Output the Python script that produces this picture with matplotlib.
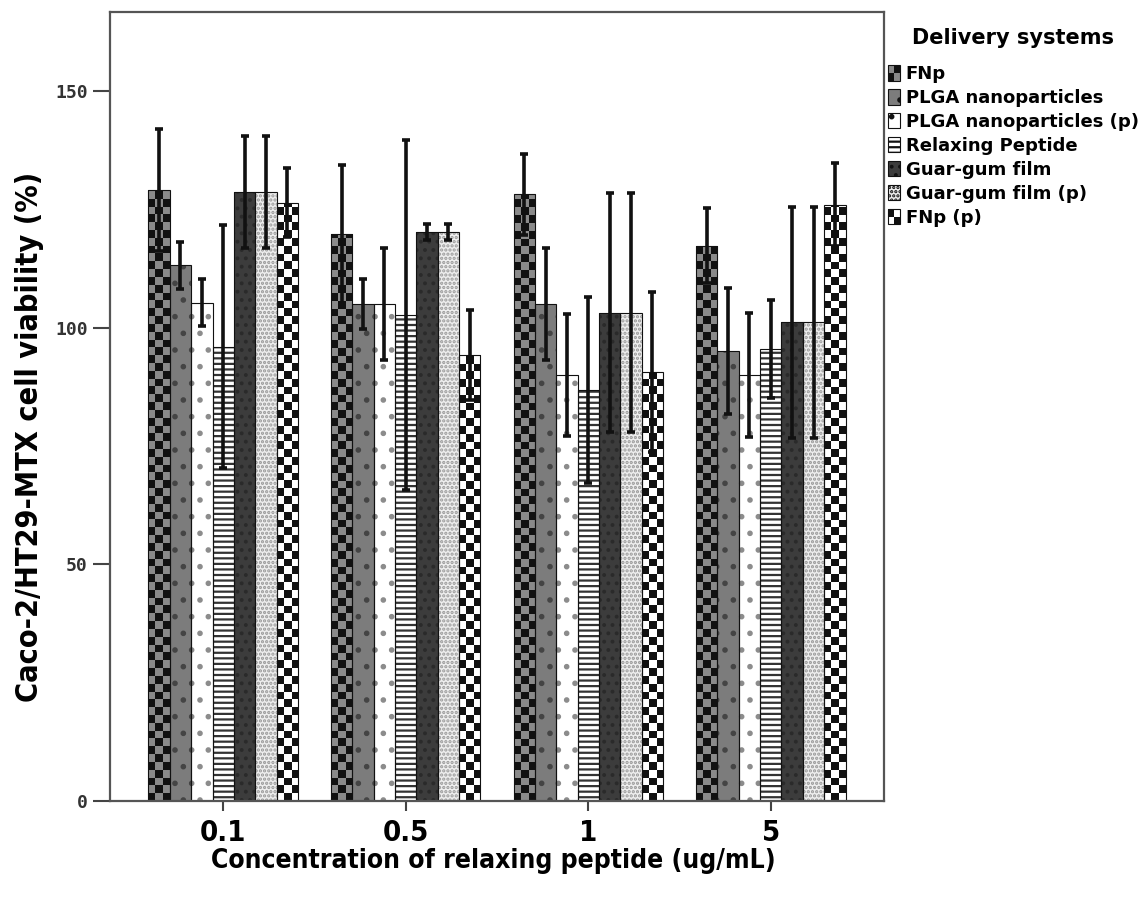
import os
import numpy as np
import matplotlib
matplotlib.use("Agg")
import matplotlib.pyplot as plt
from matplotlib import font_manager as fm
from matplotlib.patches import Rectangle, Patch
from matplotlib.legend_handler import HandlerBase
from matplotlib.colors import ListedColormap

# --- data ---
concentrations = ["0.1", "0.5", "1", "5"]
series = ["FNp", "PLGA nanoparticles", "PLGA nanoparticles (p)",
          "Relaxing Peptide", "Guar-gum film", "Guar-gum film (p)", "FNp (p)"]

fnp_mean = [129.1, 119.7, 128.2, 117.3]
plga_mean = [113.2, 105.0, 105.0, 95.0]
plga_p_mean = [105.3, 105.0, 90.0, 90.0]
relax_mean = [96.0, 102.7, 86.8, 95.5]
guar_mean = [128.7, 120.2, 103.2, 101.2]
guar_p_mean = [128.7, 120.2, 103.2, 101.2]
fnp_p_mean = [126.4, 94.2, 90.7, 126.0]

fnp_err = [12.8, 14.6, 8.6, 7.9]
plga_err = [5.0, 5.3, 11.8, 13.3]
plga_p_err = [5.0, 11.8, 12.9, 13.0]
relax_err = [25.6, 37.0, 19.6, 10.4]
guar_err = [11.8, 1.7, 25.2, 24.4]
guar_p_err = [11.8, 1.7, 25.2, 24.4]
fnp_p_err = [7.3, 9.5, 16.9, 8.7]

means = [fnp_mean, plga_mean, plga_p_mean, relax_mean, guar_mean, guar_p_mean, fnp_p_mean]
errs = [fnp_err, plga_err, plga_p_err, relax_err, guar_err, guar_p_err, fnp_p_err]

# fill styles: (kind, face, second colour, hatch)
styles = [
    ("checker", "#111111", "#8a8a8a", None),
    ("hatch", "#7c7c7c", "#444444", "."),
    ("hatch", "white", "#8c8c8c", "."),
    ("hatch", "white", "#333333", "---"),
    ("hatch", "#3c3c3c", "#2a2a2a", ".."),
    ("hatch", "#eeeeee", "#999999", "...."),
    ("checker", "white", "#111111", None),
]

plt.rcParams["hatch.linewidth"] = 1.6


# look for a condensed bold face for the axis texts
def narrow_font():
    wanted = ["LiberationSansNarrow-Bold.ttf", "DejaVuSansCondensed-Bold.ttf",
              "RobotoCondensed-Bold.ttf", "OpenSans_Condensed-Bold.ttf"]
    found = {os.path.basename(f.fname): f.fname for f in fm.fontManager.ttflist}
    for name in wanted:
        if name in found:
            return fm.FontProperties(fname=found[name]), 1.0
    return fm.FontProperties(family="DejaVu Sans", weight="bold"), 0.8


nfp, shrink = narrow_font()


def nprop(size):
    p = nfp.copy()
    p.set_size(size * shrink)
    return p


fig = plt.figure(figsize=(11.43, 9.01), dpi=100)
ax = fig.add_axes([110 / 1143, 100 / 901, 774 / 1143, 789 / 901])

x = np.arange(len(concentrations))
w = 0.117
cell_h = 1.65

for k, (m, e, st) in enumerate(zip(means, errs, styles)):
    pos = x + (k - 3) * w
    kind, c1, c2, hatch = st
    if kind == "checker":
        bars = ax.bar(pos, m, w, color=c1, edgecolor="none", zorder=2)
        cmap = ListedColormap([c1, c2])
        for b in bars:
            h = b.get_height()
            ny = int(np.ceil(h / cell_h))
            grid = (np.add.outer(np.arange(ny), np.arange(3)) % 2).astype(float)
            x0 = b.get_x()
            im = ax.imshow(grid, cmap=cmap, vmin=0, vmax=1, origin="lower",
                           extent=(x0, x0 + w, 0, ny * cell_h), aspect="auto",
                           interpolation="nearest", zorder=2.1)
            im.set_clip_path(b)
    else:
        ax.bar(pos, m, w, color=c1, edgecolor=c2, hatch=hatch, linewidth=0, zorder=2)
    ax.bar(pos, m, w, fill=False, edgecolor="#111111", linewidth=0.8, zorder=2.5)
    ax.errorbar(pos, m, yerr=e, fmt="none", ecolor="#111111", elinewidth=2.6,
                capsize=3, capthick=2.6, zorder=3)

ax.set_xlim(-0.62, 3.62)
ax.set_ylim(0, 166.7)
ax.set_xticks(x)
ax.set_xticklabels(concentrations, fontproperties=nprop(21))
ax.set_yticks([0, 50, 100, 150])
ax.set_yticklabels(["0", "50", "100", "150"], fontsize=13, fontweight="bold",
                   family="DejaVu Sans Mono", color="#333333")
ax.tick_params(axis="x", length=7, width=1.5, color="#444444", pad=6)
ax.tick_params(axis="y", length=12, width=1.5, color="#444444", pad=4)
for s in ax.spines.values():
    s.set_color("#555555")
    s.set_linewidth(1.6)

ax.set_ylabel("Caco-2/HT29-MTX cell viability (%)", fontproperties=nprop(22))
ax.yaxis.set_label_coords(-0.085, 0.461)
ax.set_xlabel("Concentration of relaxing peptide (ug/mL)", fontproperties=nprop(19))
ax.xaxis.set_label_coords(0.495, -0.06)


class CheckerHandler(HandlerBase):
    def __init__(self, c1, c2):
        super().__init__()
        self.c1, self.c2 = c1, c2

    def create_artists(self, legend, orig_handle, xdescent, ydescent,
                       width, height, fontsize, trans):
        x0, y0 = -xdescent, -ydescent
        arts = []
        for i in range(2):
            for j in range(2):
                col = self.c1 if (i + j) % 2 == 0 else self.c2
                arts.append(Rectangle((x0 + i * width / 2, y0 + j * height / 2),
                                      width / 2, height / 2, facecolor=col,
                                      edgecolor="none", transform=trans))
        arts.append(Rectangle((x0, y0), width, height, fill=False,
                              edgecolor="#111111", linewidth=0.8, transform=trans))
        return arts


handles = []
hmap = {}
for name, st in zip(series, styles):
    kind, c1, c2, hatch = st
    if kind == "checker":
        hd = Patch(facecolor=c1, label=name)
        hmap[hd] = CheckerHandler(c1, c2)
    else:
        hd = Patch(facecolor=c1, edgecolor="#111111", hatch=hatch, linewidth=0.8,
                   label=name)
    handles.append(hd)

fig.text(1013 / 1143, 1 - 38 / 901, "Delivery systems", ha="center", va="center",
         fontsize=15, fontweight="bold")
leg = fig.legend(handles=handles, labels=series, handler_map=hmap,
                 loc="upper left", bbox_to_anchor=(888 / 1143, 1 - 65 / 901),
                 frameon=False, borderpad=0, borderaxespad=0,
                 handlelength=0.68, handleheight=0.95, handletextpad=0.3,
                 labelspacing=0.33, prop={"size": 13, "weight": "bold"})

fig.savefig("out.png", dpi=100)
